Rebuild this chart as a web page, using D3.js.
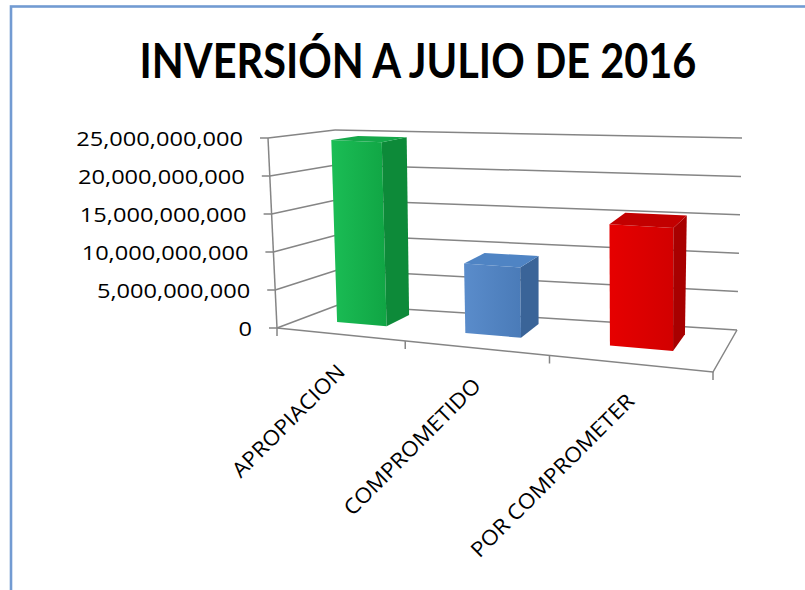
<!DOCTYPE html>
<html>
<head>
<meta charset="utf-8">
<script src="https://cdn.jsdelivr.net/npm/d3@7"></script>
<style>
  html, body { margin: 0; padding: 0; background: #ffffff; }
  svg { display: block; }
</style>
</head>
<body>
<svg id="chart" width="805" height="590"></svg>
<script>
// ---- data ----
const title = "INVERSIÓN A JULIO DE 2016";
const categories = ["APROPIACION", "COMPROMETIDO", "POR COMPROMETER"];
const values = [24500000000, 9100000000, 15400000000];
const yTickValues = [0, 5000000000, 10000000000, 15000000000, 20000000000, 25000000000];
const yMax = 25000000000;

// ---- styles ----
const barFaces = [
  { front: ["#1bbd55", "#10a544"], side: "#0d8a39", top: "#15a84a" },
  { front: ["#5a8ccb", "#4a7bb8"], side: "#3a6498", top: "#4f84c4" },
  { front: ["#e60000", "#d20000"], side: "#a80000", top: "#c20000" }
];
const gridColor = "#858585";
const font = "'Open Sans', 'Noto Sans', sans-serif";

const W = 805, H = 590;
const svg = d3.select("#chart");

// outer frame of the chart area
svg.append("rect")
  .attr("x", 11).attr("y", 6.5)
  .attr("width", W + 40).attr("height", H + 40)
  .attr("fill", "none")
  .attr("stroke", "#729bd2")
  .attr("stroke-width", 2.6);

// ---- 3D plot box (screen corners of floor and ceiling) ----
const box = {
  bottom: { fl: [277, 328], fr: [713, 372], bl: [338, 305], br: [737, 330] },
  top:    { fl: [268, 138], fr: [712, 164], bl: [335, 130], br: [742, 138] }
};
// foreshortening along the category direction
const foreshorten = u => u / (1 + 0.2 * (1 - u));

// u: 0..1 across categories, z: 0 front .. 1 back, t: 0..1 of value range
function project(u, z, t) {
  const p = foreshorten(u);
  const quad = q => {
    const f = [q.fl[0] + (q.fr[0] - q.fl[0]) * p, q.fl[1] + (q.fr[1] - q.fl[1]) * p];
    const b = [q.bl[0] + (q.br[0] - q.bl[0]) * p, q.bl[1] + (q.br[1] - q.bl[1]) * p];
    return [f[0] + (b[0] - f[0]) * z, f[1] + (b[1] - f[1]) * z];
  };
  const lo = quad(box.bottom), hi = quad(box.top);
  return [lo[0] + (hi[0] - lo[0]) * t, lo[1] + (hi[1] - lo[1]) * t];
}

// ---- scales ----
const y = d3.scaleLinear().domain([0, yMax]).range([0, 1]);
const x = d3.scaleBand().domain(categories).range([0, 1]).paddingInner(0.6).paddingOuter(0.3);
const barDepth = [0.40, 0.82];

// ---- walls: gridlines on back and left walls ----
const walls = svg.append("g").attr("fill", "none").attr("stroke", gridColor).attr("stroke-width", 1.5);
const line = d3.line();
walls.selectAll("path.back")
  .data(yTickValues)
  .join("path").attr("class", "back")
  .attr("d", d => line([project(0, 1, y(d)), project(1, 1, y(d))]));
walls.selectAll("path.side")
  .data(yTickValues)
  .join("path").attr("class", "side")
  .attr("d", d => line([project(0, 0, y(d)), project(0, 1, y(d))]));
// floor: front and right edges
walls.append("path").attr("d", line([project(0, 0, 0), project(1, 0, 0), project(1, 1, 0)]));

// ---- bars ----
const defs = svg.append("defs");
barFaces.forEach((c, i) => {
  const g = defs.append("linearGradient").attr("id", "front" + i)
    .attr("x1", "0").attr("x2", "1").attr("y1", "0").attr("y2", "0");
  g.append("stop").attr("offset", "0").attr("stop-color", c.front[0]);
  g.append("stop").attr("offset", "1").attr("stop-color", c.front[1]);
});

const bars = svg.append("g").selectAll("g")
  .data(categories.map((c, i) => ({ c, v: values[i], i })))
  .join("g");

function face(pts) { return "M" + pts.map(p => p.join(",")).join("L") + "Z"; }

bars.append("path") // front
  .attr("d", d => {
    const u0 = x(d.c), u1 = u0 + x.bandwidth(), z0 = barDepth[0], t = y(d.v);
    return face([project(u0, z0, 0), project(u1, z0, 0), project(u1, z0, t), project(u0, z0, t)]);
  })
  .attr("fill", d => `url(#front${d.i})`);
bars.append("path") // right side
  .attr("d", d => {
    const u1 = x(d.c) + x.bandwidth(), [z0, z1] = barDepth, t = y(d.v);
    return face([project(u1, z0, 0), project(u1, z1, 0), project(u1, z1, t), project(u1, z0, t)]);
  })
  .attr("fill", d => barFaces[d.i].side);
bars.append("path") // top
  .attr("d", d => {
    const u0 = x(d.c), u1 = u0 + x.bandwidth(), [z0, z1] = barDepth, t = y(d.v);
    return face([project(u0, z0, t), project(u1, z0, t), project(u1, z1, t), project(u0, z1, t)]);
  })
  .attr("fill", d => barFaces[d.i].top);

// ---- value axis along the front-left edge ----
const yScreen = d3.scaleLinear().domain([0, yMax]).range([project(0, 0, 0)[1], project(0, 0, 1)[1]]);
const yAxis = svg.append("g")
  .call(d3.axisLeft(yScreen).tickValues(yTickValues).tickFormat(d3.format(",")).tickSize(8).tickPadding(17))
  .attr("font-family", font).attr("font-size", 20);
yAxis.select(".domain").remove();
yAxis.selectAll(".tick")
  .attr("transform", d => { const p = project(0, 0, y(d)); return `translate(${p[0]},${p[1]})`; });
yAxis.selectAll(".tick line").attr("stroke", gridColor).attr("stroke-width", 1.5);
yAxis.selectAll(".tick text").attr("fill", "#000").attr("dy", "0.42em")
  .each(function () {
    const w = this.getComputedTextLength();
    d3.select(this).attr("textLength", w * 1.18).attr("lengthAdjust", "spacingAndGlyphs");
  });
// axis edge line
svg.append("path").attr("d", line([project(0, 0, 0), project(0, 0, 1)]))
  .attr("stroke", gridColor).attr("stroke-width", 1.5).attr("fill", "none");

// ---- category axis along the front floor edge ----
const catTicks = [0, ...categories.map(c => x(c) + x.bandwidth() / 2 + x.step() / 2)];
svg.append("g").selectAll("path")
  .data(catTicks)
  .join("path")
  .attr("d", u => { const p = project(u, 0, 0); return line([p, [p[0], p[1] + 8]]); })
  .attr("stroke", gridColor).attr("stroke-width", 1.5);

svg.append("g").selectAll("text")
  .data(categories)
  .join("text")
  .attr("transform", c => {
    const p = project(x(c) + x.bandwidth() / 2, 0, 0);
    return `translate(${p[0] + 7},${p[1] + 39}) rotate(-45)`;
  })
  .attr("text-anchor", "end")
  .attr("font-family", font).attr("font-size", 21)
  .attr("fill", "#000")
  .text(c => c)
  .each(function () {
    const w = this.getComputedTextLength();
    d3.select(this).attr("textLength", w * 1.08).attr("lengthAdjust", "spacingAndGlyphs");
  });

// ---- title, sized to span its line and stretched to its cap height ----
const titleText = svg.append("text")
  .attr("font-family", "Lato, 'Open Sans', sans-serif")
  .attr("font-weight", "bold")
  .attr("font-size", 50)
  .attr("fill", "#000")
  .attr("text-anchor", "middle")
  .text(title);
const tw = titleText.node().getComputedTextLength();
titleText.attr("font-size", 50 * 557 / tw)
  .attr("transform", "translate(418,78) scale(1,1.17)");
</script>
</body>
</html>
